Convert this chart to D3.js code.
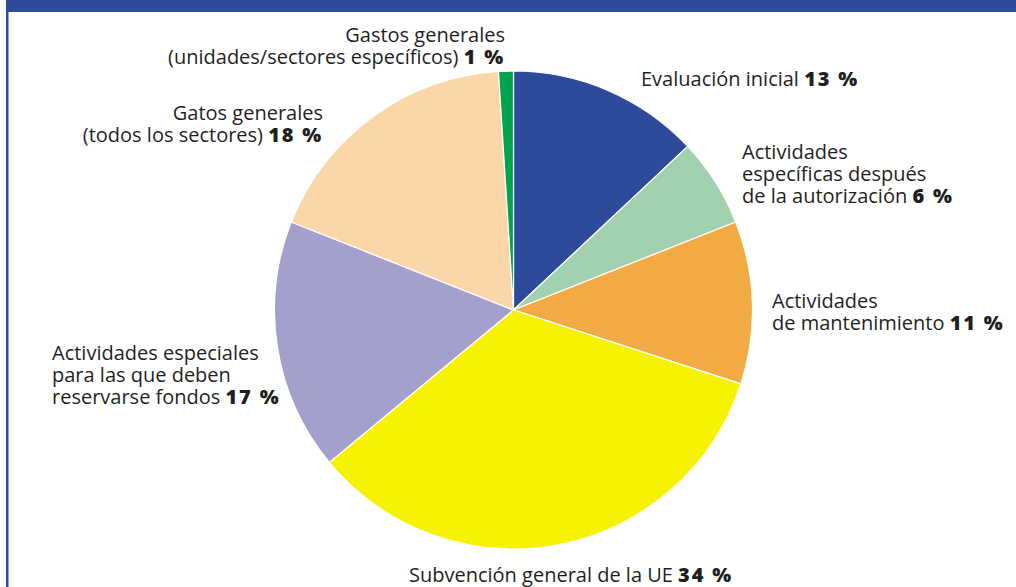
<!DOCTYPE html>
<html><head><meta charset="utf-8">
<script src="https://cdn.jsdelivr.net/npm/d3@7"></script>
<style>body{margin:0;background:#fff}svg{display:block}</style>
</head><body>
<svg id="c" width="1016" height="587"></svg>
<script>
const categories = [
  "Evaluación inicial",
  "Actividades específicas después de la autorización",
  "Actividades de mantenimiento",
  "Subvención general de la UE",
  "Actividades especiales para las que deben reservarse fondos",
  "Gatos generales (todos los sectores)",
  "Gastos generales (unidades/sectores específicos)"
];
const values = [13, 6, 11, 34, 17, 18, 1];
const colors = ["#2e4a9b", "#a2d1b0", "#f2aa44", "#f7f200", "#a3a0cd", "#fad6a8", "#00a44f"];
const labelLines = [
  ["Evaluación inicial "],
  ["Actividades", "específicas después", "de la autorización "],
  ["Actividades", "de mantenimiento "],
  ["Subvención general de la UE "],
  ["Actividades especiales", "para las que deben", "reservarse fondos "],
  ["Gatos generales", "(todos los sectores) "],
  ["Gastos generales", "(unidades/sectores específicos) "]
];
const labelAnchor = ["start","start","start","start","start","end","end"];
const labelPos = [[641,86],[742,159],[772,308],[409,582],[52,360],[323,120],[505,42]];

const svg = d3.select("#c");
const font = "'Open Sans', sans-serif";

// frame
svg.append("rect").attr("x",6).attr("y",0).attr("width",1010).attr("height",12).attr("fill","#2e4a9b");
svg.append("rect").attr("x",6).attr("y",0).attr("width",2.5).attr("height",587).attr("fill","#2e4a9b");

const cx = 513.5, cy = 310, r = 239;
const pie = d3.pie().sort(null).value(d=>d)(values);
const arc = d3.arc().innerRadius(0).outerRadius(r);
const g = svg.append("g").attr("transform",`translate(${cx},${cy})`);
g.selectAll("path").data(pie).join("path")
  .attr("d",arc).attr("fill",(d,i)=>colors[i]).attr("stroke","#fff").attr("stroke-width",1.2);

const lh = 22;
labelLines.forEach((lines,i)=>{
  lines.forEach((ln,j)=>{
    const t = svg.append("text").attr("font-family",font).attr("font-size",20).attr("fill","#1f1f1f")
      .attr("text-anchor",labelAnchor[i])
      .attr("x",labelPos[i][0]).attr("y",labelPos[i][1]+j*lh);
    t.append("tspan").text(ln);
    if (j === lines.length-1) {
      t.append("tspan").attr("font-weight","800").attr("letter-spacing",1.8)
        .text(values[i]+" %");
    }
  });
});
</script>
</body></html>
